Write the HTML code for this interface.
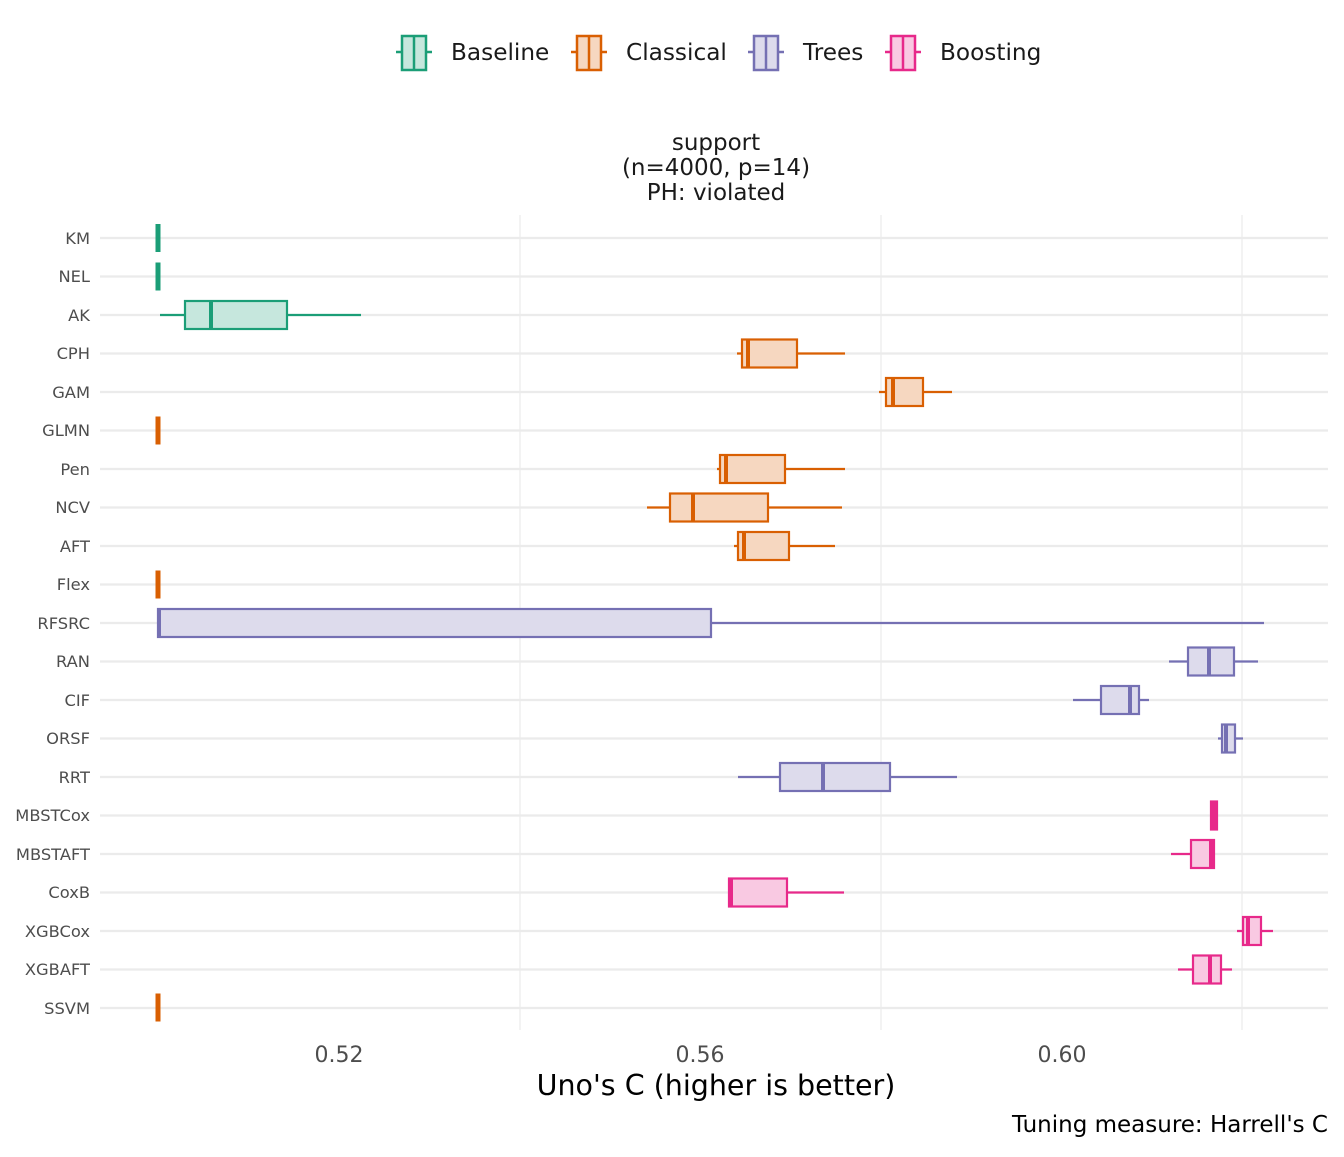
<!DOCTYPE html>
<html><head><meta charset="utf-8"><style>
body{margin:0;background:#fff;}
text{font-family:"DejaVu Sans","Liberation Sans",sans-serif;}
</style></head><body>
<svg width="1344" height="1152" xmlns="http://www.w3.org/2000/svg">
<rect width="1344" height="1152" fill="#fff"/>
<g stroke-width="2.5">
<g stroke="#1b9e77"><line x1="396" y1="52" x2="432" y2="52"/><rect x="402" y="36" width="24" height="34" fill="#c6e7dd"/><line x1="414" y1="36" x2="414" y2="70"/></g>
<g stroke="#d95f02"><line x1="571" y1="52" x2="607" y2="52"/><rect x="577" y="36" width="24" height="34" fill="#f6d7c0"/><line x1="589" y1="36" x2="589" y2="70"/></g>
<g stroke="#7570b3"><line x1="748" y1="52" x2="784" y2="52"/><rect x="754" y="36" width="24" height="34" fill="#dddbec"/><line x1="766" y1="36" x2="766" y2="70"/></g>
<g stroke="#e7298a"><line x1="885" y1="52" x2="921" y2="52"/><rect x="891" y="36" width="24" height="34" fill="#f9c9e2"/><line x1="903" y1="36" x2="903" y2="70"/></g>
</g>
<g font-size="23.2" fill="#1a1a1a">
<text x="451" y="60">Baseline</text><text x="626" y="60">Classical</text><text x="803" y="60">Trees</text><text x="940" y="60">Boosting</text>
</g>
<g font-size="23" fill="#1a1a1a" text-anchor="middle">
<text x="716" y="150">support</text><text x="716" y="175">(n=4000, p=14)</text><text x="716" y="200">PH: violated</text>
</g>
<g stroke="#ebebeb" stroke-width="1.2">
<line x1="520" y1="215" x2="520" y2="1030"/><line x1="881" y1="215" x2="881" y2="1030"/><line x1="1242" y1="215" x2="1242" y2="1030"/>
</g>
<g stroke="#ebebeb" stroke-width="2.2">
<line x1="100" y1="238" x2="1328" y2="238"/><line x1="100" y1="276.5" x2="1328" y2="276.5"/><line x1="100" y1="315" x2="1328" y2="315"/><line x1="100" y1="353.5" x2="1328" y2="353.5"/><line x1="100" y1="392" x2="1328" y2="392"/><line x1="100" y1="430.5" x2="1328" y2="430.5"/><line x1="100" y1="469" x2="1328" y2="469"/><line x1="100" y1="507.5" x2="1328" y2="507.5"/><line x1="100" y1="546" x2="1328" y2="546"/><line x1="100" y1="584.5" x2="1328" y2="584.5"/><line x1="100" y1="623" x2="1328" y2="623"/><line x1="100" y1="661.5" x2="1328" y2="661.5"/><line x1="100" y1="700" x2="1328" y2="700"/><line x1="100" y1="738.5" x2="1328" y2="738.5"/><line x1="100" y1="777" x2="1328" y2="777"/><line x1="100" y1="815.5" x2="1328" y2="815.5"/><line x1="100" y1="854" x2="1328" y2="854"/><line x1="100" y1="892.5" x2="1328" y2="892.5"/><line x1="100" y1="931" x2="1328" y2="931"/><line x1="100" y1="969.5" x2="1328" y2="969.5"/><line x1="100" y1="1008" x2="1328" y2="1008"/>
</g>
<g font-size="16.3" fill="#4d4d4d" text-anchor="end">
<text x="90" y="244">KM</text><text x="90" y="282">NEL</text><text x="90" y="321">AK</text><text x="90" y="359">CPH</text><text x="90" y="398">GAM</text><text x="90" y="436">GLMN</text><text x="90" y="475">Pen</text><text x="90" y="513">NCV</text><text x="90" y="552">AFT</text><text x="90" y="590">Flex</text><text x="90" y="629">RFSRC</text><text x="90" y="667">RAN</text><text x="90" y="706">CIF</text><text x="90" y="744">ORSF</text><text x="90" y="783">RRT</text><text x="90" y="821">MBSTCox</text><text x="90" y="860">MBSTAFT</text><text x="90" y="898">CoxB</text><text x="90" y="937">XGBCox</text><text x="90" y="975">XGBAFT</text><text x="90" y="1014">SSVM</text>
</g>
<g stroke-width="2.2">
<g stroke="#1b9e77" fill="#c6e7dd">
<line x1="158" y1="224" x2="158" y2="252" stroke-width="5"/>
<line x1="158" y1="262.5" x2="158" y2="290.5" stroke-width="5"/>
<line x1="160" y1="315" x2="361" y2="315"/><rect x="185" y="301" width="102" height="28"/><line x1="211" y1="301" x2="211" y2="329" stroke-width="4"/>
</g>
<g stroke="#d95f02" fill="#f6d7c0">
<line x1="737" y1="353.5" x2="845" y2="353.5"/><rect x="742" y="339.5" width="55" height="28"/><line x1="748" y1="339.5" x2="748" y2="367.5" stroke-width="4"/>
<line x1="879" y1="392" x2="952" y2="392"/><rect x="886" y="378" width="37" height="28"/><line x1="893" y1="378" x2="893" y2="406" stroke-width="4"/>
<line x1="158" y1="416.5" x2="158" y2="444.5" stroke-width="5"/>
<line x1="717" y1="469" x2="845" y2="469"/><rect x="720" y="455" width="65" height="28"/><line x1="726" y1="455" x2="726" y2="483" stroke-width="4"/>
<line x1="647" y1="507.5" x2="842" y2="507.5"/><rect x="670" y="493.5" width="98" height="28"/><line x1="693" y1="493.5" x2="693" y2="521.5" stroke-width="4"/>
<line x1="734" y1="546" x2="835" y2="546"/><rect x="738" y="532" width="51" height="28"/><line x1="744" y1="532" x2="744" y2="560" stroke-width="4"/>
<line x1="158" y1="570.5" x2="158" y2="598.5" stroke-width="5"/>
<line x1="158" y1="993.5" x2="158" y2="1021.5" stroke-width="5"/>
</g>
<g stroke="#7570b3" fill="#dddbec">
<line x1="158" y1="623" x2="1264" y2="623"/><rect x="158" y="609" width="553" height="28"/><line x1="159" y1="609" x2="159" y2="637" stroke-width="4"/>
<line x1="1169" y1="661.5" x2="1258" y2="661.5"/><rect x="1188" y="647.5" width="46" height="28"/><line x1="1209" y1="647.5" x2="1209" y2="675.5" stroke-width="4"/>
<line x1="1073" y1="700" x2="1149" y2="700"/><rect x="1101" y="686" width="38" height="28"/><line x1="1130" y1="686" x2="1130" y2="714" stroke-width="4"/>
<line x1="1218" y1="738.5" x2="1243" y2="738.5"/><rect x="1222" y="724.5" width="13" height="28"/><line x1="1226" y1="724.5" x2="1226" y2="752.5" stroke-width="4"/>
<line x1="738" y1="777" x2="957" y2="777"/><rect x="780" y="763" width="110" height="28"/><line x1="823" y1="763" x2="823" y2="791" stroke-width="4"/>
</g>
<g stroke="#e7298a" fill="#f9c9e2">
<line x1="1210" y1="815.5" x2="1218" y2="815.5"/><rect x="1211" y="801.5" width="6" height="28"/><line x1="1214" y1="801.5" x2="1214" y2="829.5" stroke-width="4"/>
<line x1="1171" y1="854" x2="1214" y2="854"/><rect x="1191" y="840" width="23" height="28"/><line x1="1211" y1="840" x2="1211" y2="868" stroke-width="4"/>
<line x1="729" y1="892.5" x2="844" y2="892.5"/><rect x="729" y="878.5" width="58" height="28"/><line x1="731" y1="878.5" x2="731" y2="906.5" stroke-width="4"/>
<line x1="1237" y1="931" x2="1273" y2="931"/><rect x="1243" y="917" width="18" height="28"/><line x1="1248" y1="917" x2="1248" y2="945" stroke-width="4"/>
<line x1="1178" y1="969.5" x2="1232" y2="969.5"/><rect x="1193" y="955.5" width="28" height="28"/><line x1="1210" y1="955.5" x2="1210" y2="983.5" stroke-width="4"/>
</g>
</g>
<g font-size="22" fill="#4d4d4d" text-anchor="middle">
<text x="339" y="1062">0.52</text><text x="700" y="1062">0.56</text><text x="1062" y="1062">0.60</text>
</g>
<text x="716" y="1095" font-size="28.5" fill="#000" text-anchor="middle">Uno's C (higher is better)</text>
<text x="1328" y="1132" font-size="23" fill="#000" text-anchor="end">Tuning measure: Harrell's C</text>
</svg>
</body></html>
